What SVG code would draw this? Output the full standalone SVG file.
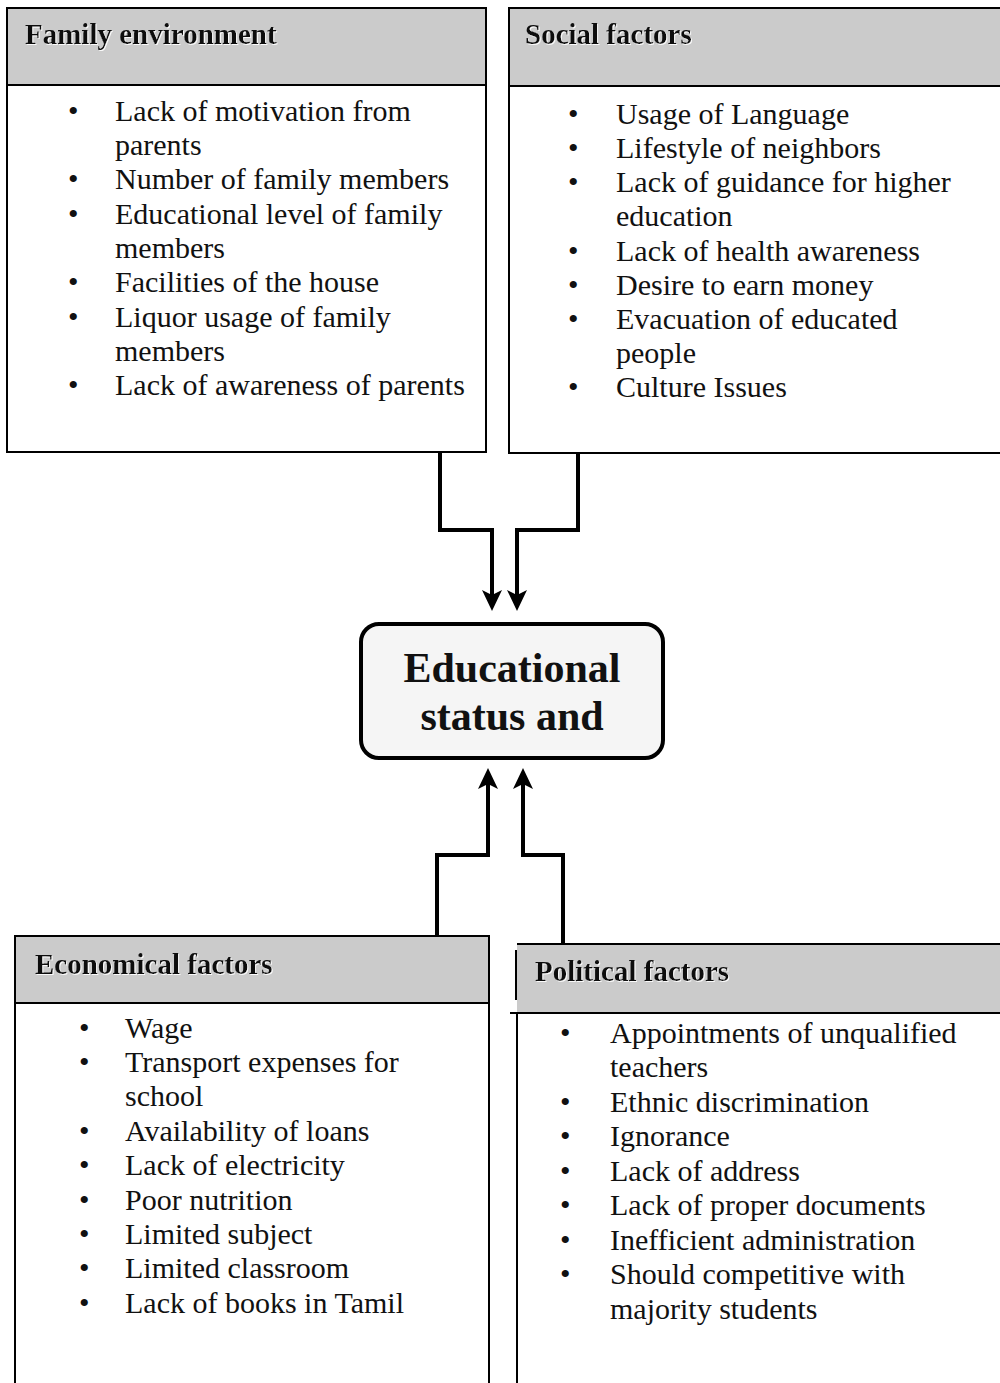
<svg xmlns="http://www.w3.org/2000/svg" width="1000" height="1383" viewBox="0 0 1000 1383">
<style>
.box{fill:#fff;stroke:#000;stroke-width:2}
.hdr{fill:#cbcbcb;stroke:#000;stroke-width:2}
.ht{font-family:"Liberation Serif",serif;font-weight:bold;font-size:29px;fill:#111}
.li{font-family:"Liberation Serif",serif;font-size:30px;fill:#111}
.ct{font-family:"Liberation Serif",serif;font-weight:bold;font-size:42px;fill:#111;text-anchor:middle}
.conn{fill:none;stroke:#000;stroke-width:4;stroke-linejoin:miter}
</style>
<defs>
<marker id="ah" viewBox="-10 -12 26 24" markerWidth="26" markerHeight="24" refX="0" refY="0" orient="auto" markerUnits="userSpaceOnUse">
<path d="M13,0 L-8,-10 L-3,0 L-8,10 Z" fill="#000"/>
</marker>
<filter id="sh" x="-5%" y="-20%" width="110%" height="150%">
<feDropShadow dx="1" dy="1" stdDeviation="0.6" flood-color="#fff" flood-opacity="0.9"/>
</filter>
</defs>
<rect width="1000" height="1383" fill="#fff"/>

<g id="family">
<rect class="box" x="7" y="8" width="479" height="444"/>
<rect class="hdr" x="7" y="8" width="479" height="77"/>
<text class="ht" x="25" y="44" filter="url(#sh)">Family environment</text>
<g class="li">
<text x="68" y="121">•</text><text x="115" y="121">Lack of motivation from</text>
<text x="115" y="155">parents</text>
<text x="68" y="189">•</text><text x="115" y="189">Number of family members</text>
<text x="68" y="224">•</text><text x="115" y="224">Educational level of family</text>
<text x="115" y="258">members</text>
<text x="68" y="292">•</text><text x="115" y="292">Facilities of the house</text>
<text x="68" y="327">•</text><text x="115" y="327">Liquor usage of family</text>
<text x="115" y="361">members</text>
<text x="68" y="395">•</text><text x="115" y="395">Lack of awareness of parents</text>
</g>
</g>

<g id="social">
<rect class="box" x="509" y="8" width="500" height="445"/>
<rect class="hdr" x="509" y="8" width="500" height="78"/>
<text class="ht" x="525" y="44" filter="url(#sh)">Social factors</text>
<g class="li">
<text x="568" y="124">•</text><text x="616" y="124">Usage of Language</text>
<text x="568" y="158">•</text><text x="616" y="158">Lifestyle of neighbors</text>
<text x="568" y="192">•</text><text x="616" y="192">Lack of guidance for higher</text>
<text x="616" y="226">education</text>
<text x="568" y="261">•</text><text x="616" y="261">Lack of health awareness</text>
<text x="568" y="295">•</text><text x="616" y="295">Desire to earn money</text>
<text x="568" y="329">•</text><text x="616" y="329">Evacuation of educated</text>
<text x="616" y="363">people</text>
<text x="568" y="397">•</text><text x="616" y="397">Culture Issues</text>
</g>
</g>

<g id="center">
<rect x="361" y="624" width="302" height="134" rx="18" fill="#f5f5f5" stroke="#000" stroke-width="4"/>
<text class="ct" x="512" y="682">Educational</text>
<text class="ct" x="512" y="730">status and</text>
</g>

<g id="economical">
<rect class="box" x="15" y="936" width="474" height="460"/>
<rect class="hdr" x="15" y="936" width="474" height="67"/>
<text class="ht" x="35" y="974" filter="url(#sh)">Economical factors</text>
<g class="li">
<text x="79" y="1038">•</text><text x="125" y="1038">Wage</text>
<text x="79" y="1072">•</text><text x="125" y="1072">Transport expenses for</text>
<text x="125" y="1106">school</text>
<text x="79" y="1141">•</text><text x="125" y="1141">Availability of loans</text>
<text x="79" y="1175">•</text><text x="125" y="1175">Lack of electricity</text>
<text x="79" y="1210">•</text><text x="125" y="1210">Poor nutrition</text>
<text x="79" y="1244">•</text><text x="125" y="1244">Limited subject</text>
<text x="79" y="1278">•</text><text x="125" y="1278">Limited classroom</text>
<text x="79" y="1313">•</text><text x="125" y="1313">Lack of books in Tamil</text>
</g>
</g>

<g id="political">
<rect x="517" y="944" width="490" height="69" fill="#cbcbcb"/>
<line x1="517" y1="944" x2="1000" y2="944" stroke="#000" stroke-width="2"/>
<line x1="510" y1="1013" x2="1000" y2="1013" stroke="#000" stroke-width="2"/>
<line x1="516" y1="950" x2="516" y2="1000" stroke="#000" stroke-width="2"/>
<line x1="517" y1="1013" x2="517" y2="1383" stroke="#000" stroke-width="2"/>
<text class="ht" x="535" y="981" filter="url(#sh)">Political factors</text>
<g class="li">
<text x="560" y="1043">•</text><text x="610" y="1043">Appointments of unqualified</text>
<text x="610" y="1077">teachers</text>
<text x="560" y="1112">•</text><text x="610" y="1112">Ethnic discrimination</text>
<text x="560" y="1146">•</text><text x="610" y="1146">Ignorance</text>
<text x="560" y="1181">•</text><text x="610" y="1181">Lack of address</text>
<text x="560" y="1215">•</text><text x="610" y="1215">Lack of proper documents</text>
<text x="560" y="1250">•</text><text x="610" y="1250">Inefficient administration</text>
<text x="560" y="1284">•</text><text x="610" y="1284">Should competitive with</text>
<text x="610" y="1319">majority students</text>
</g>
</g>

<g id="connectors">
<path class="conn" d="M440,452 V530 H492 V598" marker-end="url(#ah)"/>
<path class="conn" d="M578,453 V530 H517 V598" marker-end="url(#ah)"/>
<path class="conn" d="M437,935 V855 H488 V781" marker-end="url(#ah)"/>
<path class="conn" d="M563,943 V855 H523 V781" marker-end="url(#ah)"/>
</g>
</svg>
